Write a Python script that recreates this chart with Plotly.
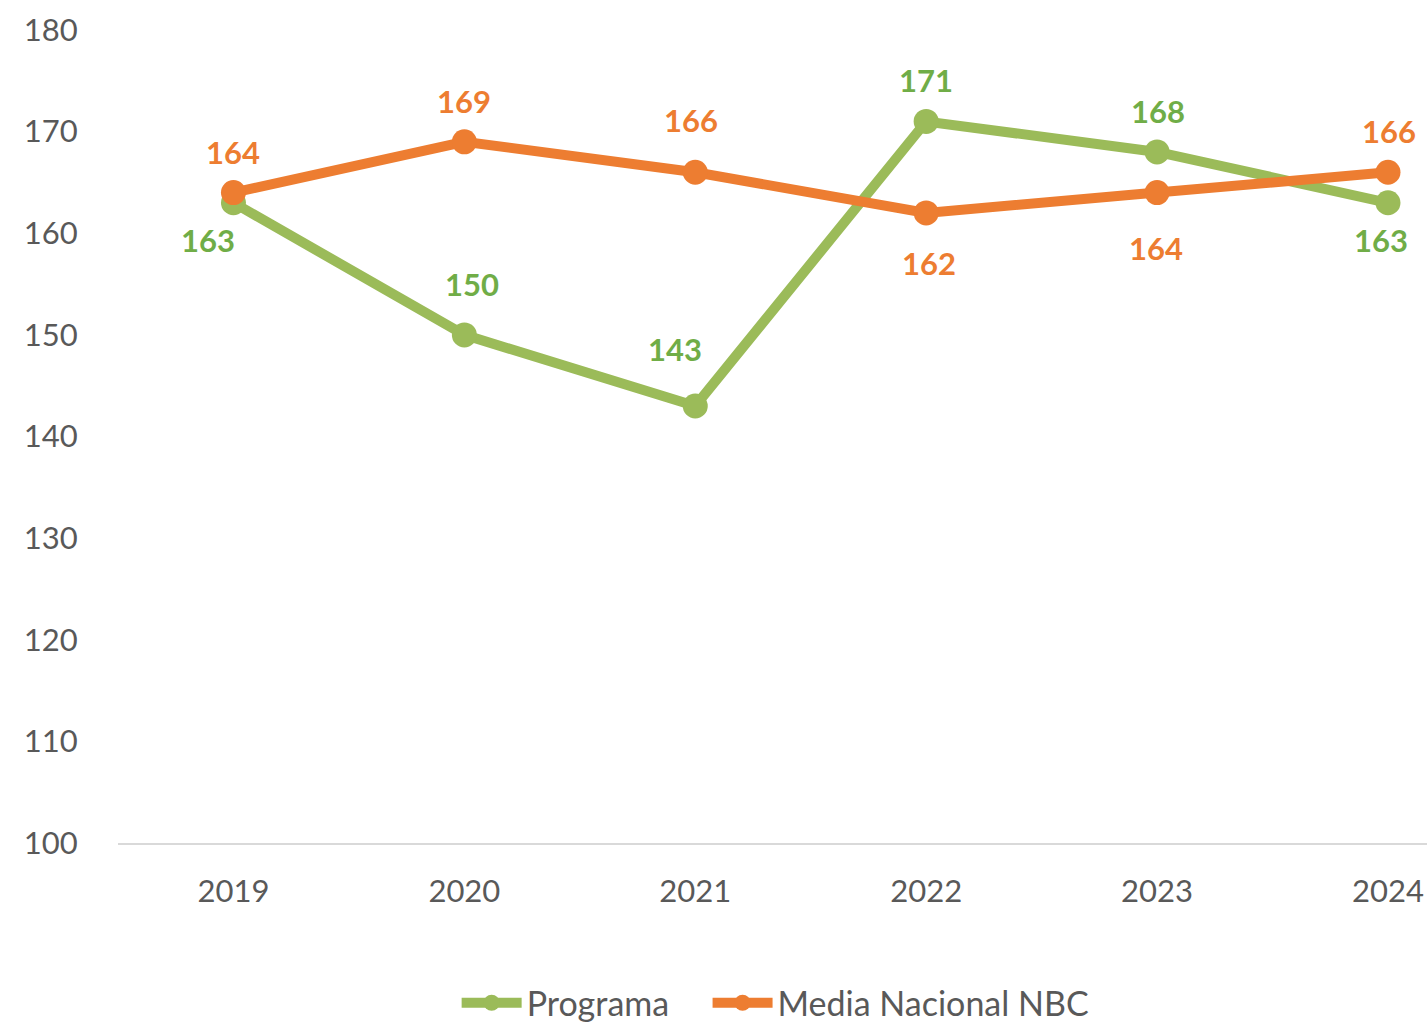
import plotly.graph_objects as go

years = ["2019", "2020", "2021", "2022", "2023", "2024"]
programa = [163, 150, 143, 171, 168, 163]
media_nbc = [164, 169, 166, 162, 164, 166]

# label offsets in pixels (dx, dy) relative to each point; positive dy = below
programa_offsets = [(-25, 37), (8, -51), (-20, -57), (0, -41), (1, -41), (-7, 37)]
media_offsets = [(0, -41), (0, -41), (-4, -52), (3, 50), (-1, 55), (1, -41)]

GREEN = "#9BBB59"
GREEN_TXT = "#70AD47"
ORANGE = "#ED7D31"
FONT = "Lato"
GREY = "#595959"

fig = go.Figure()
fig.add_trace(go.Scatter(
    x=years, y=programa, name="Programa", mode="lines+markers",
    line=dict(color=GREEN, width=10), marker=dict(color=GREEN, size=25),
    cliponaxis=False, legend="legend",
))
fig.add_trace(go.Scatter(
    x=years, y=media_nbc, name="Media Nacional NBC", mode="lines+markers",
    line=dict(color=ORANGE, width=10), marker=dict(color=ORANGE, size=25),
    cliponaxis=False, legend="legend2",
))

annotations = []
for vals, offs, col in ((programa, programa_offsets, GREEN_TXT), (media_nbc, media_offsets, ORANGE)):
    for i, (v, (dx, dy)) in enumerate(zip(vals, offs)):
        annotations.append(dict(
            x=i, y=v, xref="x", yref="y", text=f"<b>{v}</b>", showarrow=False,
            xshift=dx, yshift=-dy,
            font=dict(family=FONT, size=31, color=col),
        ))

legend_style = dict(
    orientation="h", xanchor="left", y=-0.197, yanchor="middle",
    font=dict(family=FONT, size=34, color=GREY),
    itemwidth=60, bgcolor="rgba(0,0,0,0)",
)

fig.update_layout(
    width=1427, height=1022,
    margin=dict(l=118, r=0, t=30, b=179, autoexpand=False),
    paper_bgcolor="white", plot_bgcolor="white",
    font=dict(family=FONT, size=31, color=GREY),
    annotations=annotations,
    showlegend=True,
    legend=dict(x=0.2587, **legend_style),
    legend2=dict(x=0.4504, **legend_style),
    xaxis=dict(
        type="category", range=[-0.5, 5.169],
        showgrid=False, showline=True, linecolor="#D9D9D9", linewidth=2,
        ticks="outside", ticklen=20, tickcolor="rgba(0,0,0,0)",
        tickfont=dict(family=FONT, size=31, color=GREY),
        zeroline=False,
    ),
    yaxis=dict(
        range=[100, 180], dtick=10, tick0=100,
        showgrid=False, showline=False, zeroline=False,
        ticks="outside", ticklen=33, tickcolor="rgba(0,0,0,0)",
        tickfont=dict(family=FONT, size=31, color=GREY),
    ),
)

fig.write_html("out.html")
